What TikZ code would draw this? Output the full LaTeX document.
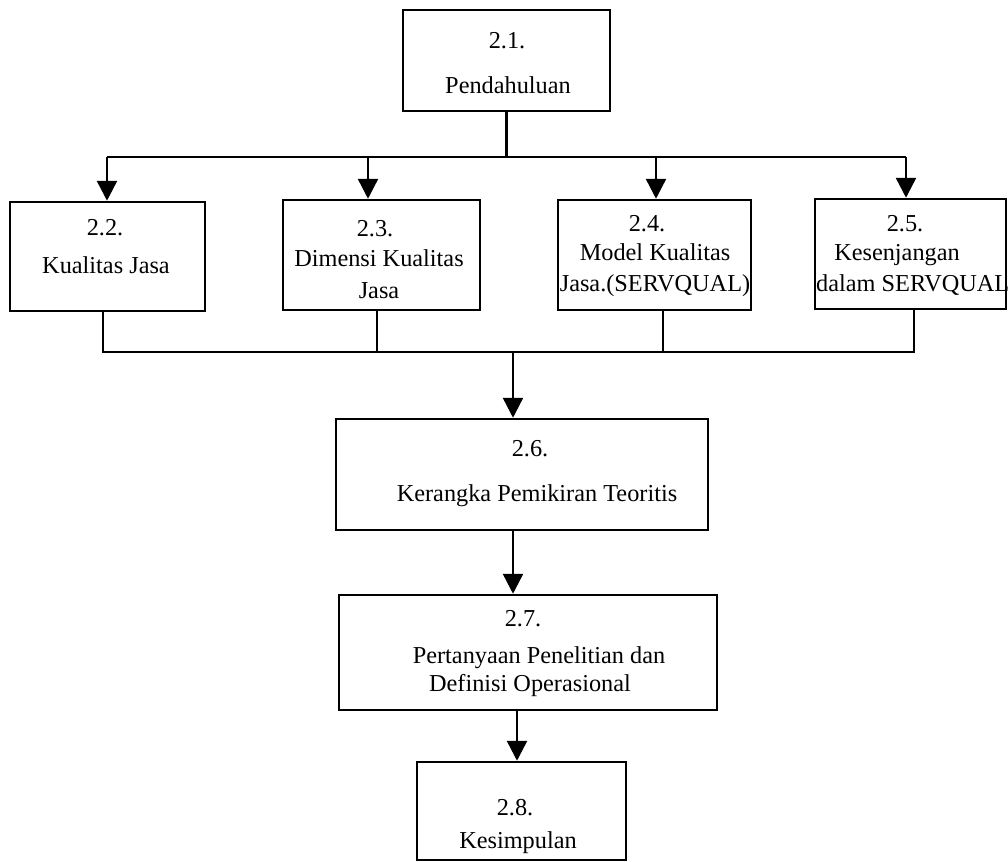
\documentclass[tikz,border=0pt]{standalone}
\usepackage{fontspec}
\setmainfont{Liberation Serif}
\usetikzlibrary{arrows.meta}
\begin{document}
\begin{tikzpicture}[x=1bp,y=-1bp,
  box/.style={draw, line width=2.5bp, rectangle, inner sep=0pt},
  txt/.style={anchor=base, inner sep=0pt, font=\fontsize{24.3bp}{28bp}\selectfont},
  conn/.style={line width=2.5bp},
  arr/.style={line width=2.5bp, -{Triangle[length=20bp,width=20bp]}}]
\useasboundingbox (0,0) rectangle (1008,862);
% boxes
\node[box, minimum width=207bp, minimum height=101bp] (b1) at (506.5,60.5) {};
\node[box, minimum width=195bp, minimum height=109bp] (b2) at (107.5,256.5) {};
\node[box, minimum width=197bp, minimum height=110bp] (b3) at (381.5,255) {};
\node[box, minimum width=193bp, minimum height=110bp] (b4) at (654.5,255) {};
\node[box, minimum width=191bp, minimum height=110bp] (b5) at (910.5,254) {};
\node[box, minimum width=372bp, minimum height=111bp] (b6) at (522,474.5) {};
\node[box, minimum width=378bp, minimum height=115bp] (b7) at (528,652.5) {};
\node[box, minimum width=209bp, minimum height=98bp] (b8) at (521.5,811) {};
% texts
\node[txt] (t1a) at (507,48) {2.1.};
\node[txt] (t1b) at (508,93) {Pendahuluan};
\node[txt] (t2a) at (105,235) {2.2.};
\node[txt] (t2b) at (106,273) {Kualitas Jasa};
\node[txt] (t3a) at (375,236) {2.3.};
\node[txt] (t3b) at (379,266) {Dimensi Kualitas};
\node[txt] (t3c) at (379,298) {Jasa};
\node[txt] (t4a) at (647,231) {2.4.};
\node[txt] (t4b) at (655,260) {Model Kualitas};
\node[txt] (t4c) at (655,291) {Jasa.(SERVQUAL)};
\node[txt] (t5a) at (905,231) {2.5.};
\node[txt] (t5b) at (897,260) {Kesenjangan};
\node[txt, anchor=base west] (t5c) at (816,291) {dalam SERVQUAL};
\node[txt] (t6a) at (530,456) {2.6.};
\node[txt] (t6b) at (537,501) {Kerangka Pemikiran Teoritis};
\node[txt] (t7a) at (523,626) {2.7.};
\node[txt] (t7b) at (539,663) {Pertanyaan Penelitian dan};
\node[txt] (t7c) at (530,691) {Definisi Operasional};
\node[txt] (t8a) at (515,815) {2.8.};
\node[txt] (t8b) at (518,848) {Kesimpulan};
% top distribution
\coordinate (tj) at (506.5,157);
\coordinate (tl) at (107,157);
\coordinate (t3) at (368,157);
\coordinate (t4) at (656,157);
\coordinate (tr) at (906,157);
\draw[conn] (b1.south) -- (tj);
\draw[conn] (tl) -- (tr);
\draw[arr] (tl) -- (tl |- b2.north);
\draw[arr] (t3) -- (t3 |- b3.north);
\draw[arr] (t4) -- (t4 |- b4.north);
\draw[arr] (tr) -- (tr |- b5.north);
% bottom collection
\coordinate (bl) at (103,352);
\coordinate (c3) at (377,352);
\coordinate (c4) at (663,352);
\coordinate (br) at (914,352);
\coordinate (bm) at (513,352);
\draw[conn] (bl |- b2.south) -- (bl) -- (br) -- (br |- b5.south);
\draw[conn] (c3 |- b3.south) -- (c3);
\draw[conn] (c4 |- b4.south) -- (c4);
\draw[arr] (bm) -- (bm |- b6.north);
% lower chain
\coordinate (m67) at (513,0);
\coordinate (m78) at (517,0);
\draw[arr] (m67 |- b6.south) -- (m67 |- b7.north);
\draw[arr] (m78 |- b7.south) -- (m78 |- b8.north);
\end{tikzpicture}
\end{document}
